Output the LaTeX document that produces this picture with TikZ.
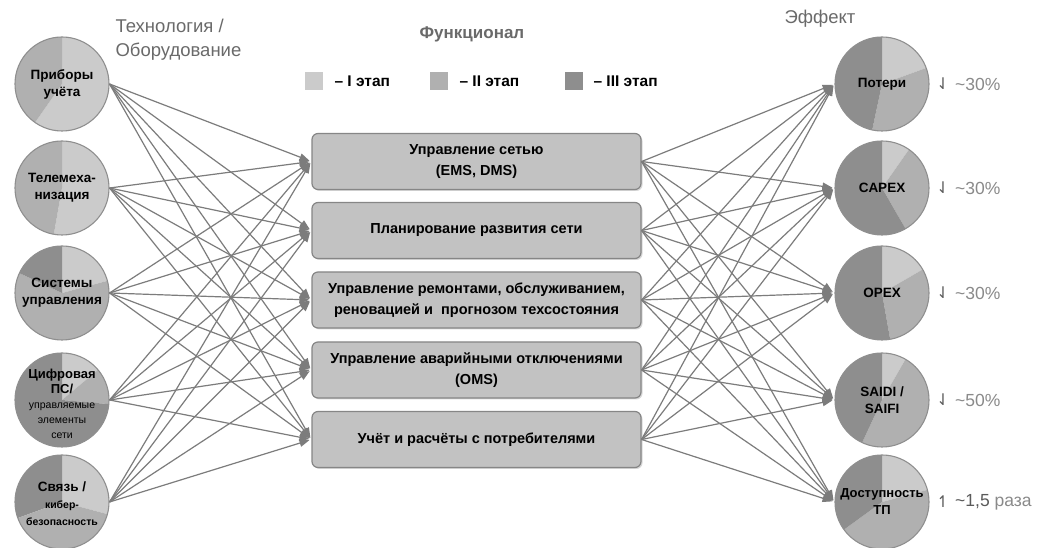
\documentclass[tikz,border=0pt]{standalone}
\usepackage{fontspec}
\setmainfont{Liberation Sans}
\newfontfamily\symf{DejaVu Sans}
\usetikzlibrary{arrows.meta,shadows}
\definecolor{cI}{HTML}{CBCBCB}
\definecolor{cII}{HTML}{B0B0B0}
\definecolor{cIII}{HTML}{8E8E8E}
\definecolor{circb}{HTML}{8F8F8F}
\definecolor{boxf}{HTML}{C2C2C2}
\definecolor{boxb}{HTML}{868686}
\definecolor{lnk}{HTML}{7C7C7C}
\definecolor{ttl}{HTML}{6A6A6A}
\definecolor{pct}{HTML}{8A8A8A}
\definecolor{pctd}{HTML}{5A5A5A}
\newcommand{\prad}{47pt}
\newcommand{\seg}[4]{\fill[#4] (#1) -- ++(#2:\prad) arc[start angle=#2,end angle=#3,radius=\prad] -- cycle;}
\newcommand{\smallr}{\mdseries\fontsize{10.5}{13}\selectfont}
\newcommand{\smallb}{\bfseries\fontsize{10.5}{13}\selectfont}
\begin{document}
\begin{tikzpicture}[x=1pt,y=1pt,
  circ/.style={circle,draw=circb,line width=1.1pt,minimum size=94pt,inner sep=0pt},
  ctext/.style={inner sep=0pt,align=center,font=\bfseries\fontsize{13.5}{17}\selectfont},
  funcbox/.style={rounded corners=6pt,draw=boxb,fill=boxf,line width=1.2pt,minimum width=329pt,minimum height=56pt,inner sep=0pt,align=center,font=\bfseries\fontsize{14.5}{21}\selectfont,drop shadow={shadow xshift=1.5pt,shadow yshift=-1.5pt,opacity=0.3}},
  conn/.style={draw=lnk,line width=1.2pt,-{Triangle[length=10pt,width=7.5pt]},shorten >=2pt},
  legsq/.style={minimum size=18pt,inner sep=0pt},
  legtxt/.style={anchor=base west,font=\bfseries\fontsize{15.5}{18}\selectfont},
  ttlfont/.style={text=ttl,font=\fontsize{18.5}{22}\selectfont},
  pcttxt/.style={anchor=west,text=pct,font=\fontsize{17.5}{20}\selectfont,inner sep=0pt},
  arr/.style={text=pctd,font=\symf\fontsize{16}{18}\selectfont,inner sep=0pt}
]
\useasboundingbox (0,0) rectangle (1039,548);
\fill[white] (0,0) rectangle (1039,548);

% titles
\node[ttlfont,anchor=base west] (tech1) at (112,515) {Технология /};
\node[ttlfont,anchor=base west] (tech2) at (112,491) {Оборудование};
\node[text=ttl,font=\bfseries\fontsize{17}{20}\selectfont,anchor=base] (func) at (472,509) {Функционал};
\node[ttlfont,anchor=base] (eff) at (820,524) {Эффект};

% legend
\node[legsq,fill=cI] (s1) at (314,467) {};
\node[legtxt] (l1) at (331,461.5) {– I этап};
\node[legsq,fill=cII] (s2) at (439,467) {};
\node[legtxt] (l2) at (456,461.5) {– II этап};
\node[legsq,fill=cIII] (s3) at (574,467) {};
\node[legtxt] (l3) at (590,461.5) {– III этап};

% left circles
\coordinate (cL1) at (62,464);
\seg{cL1}{-125}{90}{cI}\seg{cL1}{90}{235}{cII}
\node[circ] (L1) at (cL1) {};
\node[ctext] (tL1) at (cL1) {Приборы\\учёта};

\coordinate (cL2) at (62,360);
\seg{cL2}{-100}{90}{cI}\seg{cL2}{90}{260}{cII}
\node[circ] (L2) at (cL2) {};
\node[ctext] (tL2) at (cL2) {Телемеха-\\низация};

\coordinate (cL3) at (62,255);
\seg{cL3}{15}{90}{cI}\seg{cL3}{155}{375}{cII}\seg{cL3}{90}{155}{cIII}
\node[circ] (L3) at (cL3) {};
\node[ctext] (tL3) at (cL3) {Системы\\управления};

\coordinate (cL4) at (62,148);
\seg{cL4}{40}{90}{cI}\seg{cL4}{-5}{40}{cII}\seg{cL4}{90}{355}{cIII}
\node[circ] (L4) at (cL4) {};
\node[ctext,font=\bfseries\fontsize{13}{15}\selectfont] (tL4) at (62,144) {Цифровая\\ПС/\\\smallr управляемые\\\smallr элементы\\\smallr сети};

\coordinate (cL5) at (62,46);
\seg{cL5}{-15}{90}{cI}\seg{cL5}{90}{200}{cIII}\seg{cL5}{200}{345}{cII}
\node[circ] (L5) at (cL5) {};
\node[ctext] (tL5) at (62,44) {Связь /\\\smallb кибер-\\\smallb безопасность};

% boxes
\node[funcbox] (B1) at (476.5,386.5) {Управление сетью\\(EMS, DMS)};
\node[funcbox] (B2) at (476.5,317.5) {Планирование развития сети};
\node[funcbox] (B3) at (476.5,248) {Управление ремонтами, обслуживанием,\\реновацией и~ прогнозом техсостояния};
\node[funcbox] (B4) at (476.5,178) {Управление аварийными отключениями\\(OMS)};
\node[funcbox] (B5) at (476.5,108.5) {Учёт и расчёты с потребителями};

% right circles
\coordinate (cR1) at (882,464);
\seg{cR1}{20}{90}{cI}\seg{cR1}{258}{380}{cII}\seg{cR1}{90}{258}{cIII}
\node[circ] (R1) at (cR1) {};
\node[ctext] (tR1) at (cR1) {Потери};

\coordinate (cR2) at (882,360);
\seg{cR2}{55}{90}{cI}\seg{cR2}{-60}{55}{cII}\seg{cR2}{90}{300}{cIII}
\node[circ] (R2) at (cR2) {};
\node[ctext] (tR2) at (cR2) {CAPEX};

\coordinate (cR3) at (882,255);
\seg{cR3}{30}{90}{cI}\seg{cR3}{-80}{30}{cII}\seg{cR3}{90}{280}{cIII}
\node[circ] (R3) at (cR3) {};
\node[ctext] (tR3) at (cR3) {OPEX};

\coordinate (cR4) at (882,148);
\seg{cR4}{60}{90}{cI}\seg{cR4}{245}{420}{cII}\seg{cR4}{90}{245}{cIII}
\node[circ] (R4) at (cR4) {};
\node[ctext] (tR4) at (cR4) {SAIDI /\\SAIFI};

\coordinate (cR5) at (882,46);
\seg{cR5}{15}{90}{cI}\seg{cR5}{216}{375}{cII}\seg{cR5}{90}{216}{cIII}
\node[circ] (R5) at (cR5) {};
\node[ctext,font=\bfseries\fontsize{13}{17}\selectfont] (tR5) at (cR5) {Доступность\\ТП};

% connectors
\foreach \i in {1,...,5}{
  \foreach \j in {1,...,5}{
    \draw[conn] (L\i.east) -- (B\j.west);
    \draw[conn] (B\i.east) -- (R\j.west);
  }
}

% effects
\node[arr] (a1) at (943,464) {⇃};
\node[pcttxt] (p1) at (955,464) {\textasciitilde30\%};
\node[arr] (a2) at (943,360) {⇃};
\node[pcttxt] (p2) at (955,360) {\textasciitilde30\%};
\node[arr] (a3) at (943,255) {⇃};
\node[pcttxt] (p3) at (955,255) {\textasciitilde30\%};
\node[arr] (a4) at (943,148) {⇃};
\node[pcttxt] (p4) at (955,148) {\textasciitilde50\%};
\node[arr] (a5) at (943,46) {↿};
\node[pcttxt] (p5) at (955,46) {\textcolor{pctd}{\textasciitilde1,5} раза};
\end{tikzpicture}
\end{document}
